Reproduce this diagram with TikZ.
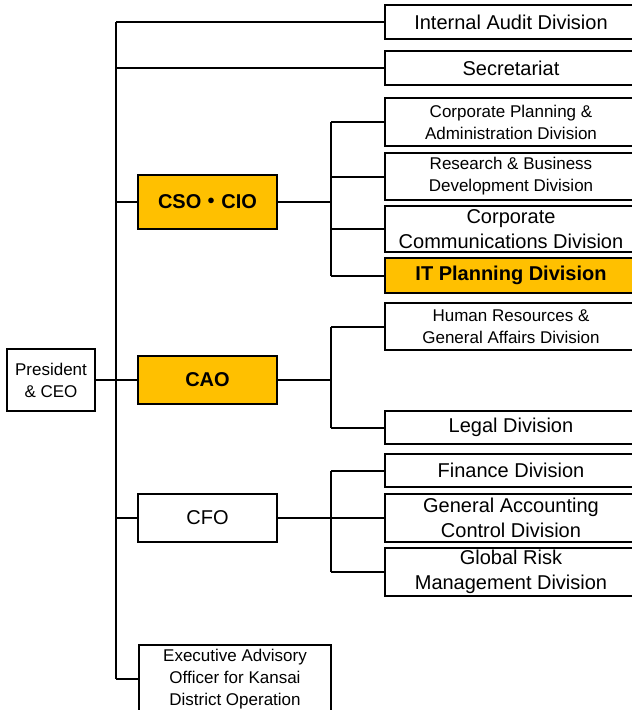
\documentclass[tikz,border=0pt]{standalone}
\usepackage{fontspec}
\setmainfont{Liberation Sans}
\newfontfamily\cjk{Noto Sans CJK JP}
\definecolor{hl}{HTML}{FFC000}
\begin{document}
\begin{tikzpicture}[x=1pt,y=-1pt,
  box/.style={draw=black, line width=2pt, fill=white, inner sep=0pt, align=center, font=\fontsize{17}{22}\selectfont},
  big/.style={font=\fontsize{20}{25}\selectfont},
  div/.style={box, minimum width=252pt},
  off/.style={box, minimum width=139pt},
  hlbox/.style={fill=hl, line width=2.8pt, font=\bfseries\fontsize{20}{25}\selectfont},
  conn/.style={line width=2pt}]
\clip (0,0) rectangle (632,710);
% divisions
\node[div, big, minimum height=34pt] (iad) at (511,22) {Internal Audit Division};
\node[div, big, minimum height=34pt] (sec) at (511,68) {Secretariat};
\node[div, minimum height=48pt] (cpa) at (511,122) {Corporate Planning \&\\Administration Division};
\node[div, minimum height=47pt] (rbd) at (511,176.5) {Research \& Business\\Development Division};
\node[div, big, minimum height=46pt] (ccd) at (511,229) {Corporate\\Communications Division};
\node[div, hlbox, minimum height=35pt] (itp) at (511,275.5) {IT Planning Division};
\node[div, minimum height=47pt] (hrg) at (511,326.5) {Human Resources \&\\General Affairs Division};
\node[div, big, minimum height=33pt] (leg) at (511,427.5) {Legal Division};
\node[div, big, minimum height=33pt] (fin) at (511,470.5) {Finance Division};
\node[div, big, minimum height=48pt] (gac) at (511,518) {General Accounting\\Control Division};
\node[div, big, minimum height=48pt] (grm) at (511,572) {Global Risk\\Management Division};
% officers
\node[off, hlbox, minimum height=54pt] (cso) at (207.5,202) {CSO{\cjk\bfseries ・}CIO};
\node[off, hlbox, minimum height=48pt] (cao) at (207.5,380) {CAO};
\node[off, big, minimum height=48pt] (cfo) at (207.5,518) {CFO};
\node[box, minimum width=88pt, minimum height=62pt] (pres) at (51,380) {President\\\& CEO};
\node[box, minimum width=192pt, minimum height=68pt] (exe) at (235,679) {Executive Advisory\\Officer for Kansai\\District Operation};
% trunk
\coordinate (ttop) at (116,22);
\coordinate (tbot) at (116,679);
\coordinate (sub) at (331,0);
\draw[conn] (ttop) -- (tbot);
\foreach \n in {iad,sec,cso,cfo,exe}{\draw[conn] (\n.west) -- (\n.west -| ttop);}
\draw[conn] (pres.east) -- (cao.west);
% sub trunks
\draw[conn] (cso.east) -- (cso.east -| sub);
\draw[conn] (cpa.west -| sub) -- (itp.west -| sub);
\foreach \n in {cpa,rbd,ccd,itp}{\draw[conn] (\n.west) -- (\n.west -| sub);}
\draw[conn] (cao.east) -- (cao.east -| sub);
\draw[conn] (hrg.west -| sub) -- (leg.west -| sub);
\foreach \n in {hrg,leg}{\draw[conn] (\n.west) -- (\n.west -| sub);}
\draw[conn] (cfo.east) -- (cfo.east -| sub);
\draw[conn] (fin.west -| sub) -- (grm.west -| sub);
\foreach \n in {fin,gac,grm}{\draw[conn] (\n.west) -- (\n.west -| sub);}
\end{tikzpicture}
\end{document}
